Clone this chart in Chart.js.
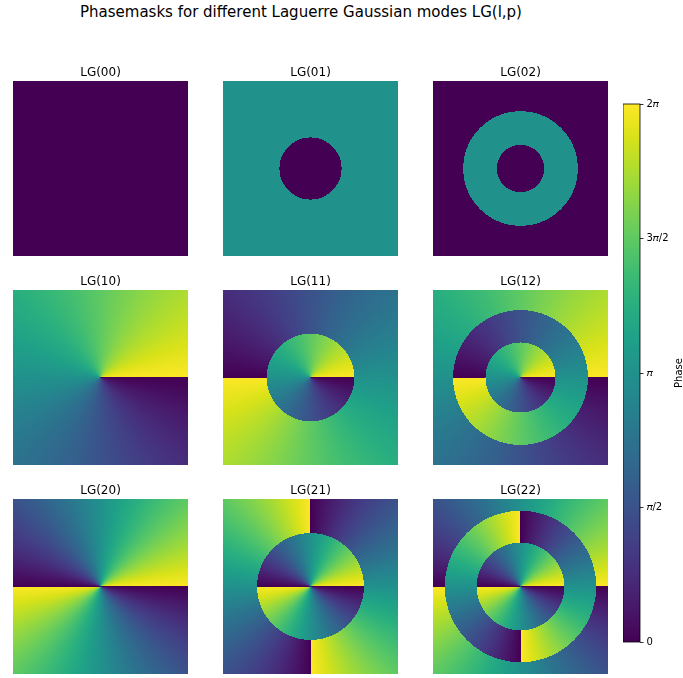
<!DOCTYPE html>
<html>
<head>
<meta charset="utf-8">
<script src="https://cdn.jsdelivr.net/npm/chart.js@4/dist/chart.umd.min.js"></script>
<style>
  html, body { margin: 0; padding: 0; background: #ffffff; }
  #fig { position: relative; width: 683px; height: 678px; overflow: hidden; font-family: "DejaVu Sans", sans-serif; }
  #fig canvas { position: absolute; }
  #suptitle { position: absolute; left: 0; top: 4px; width: 602px; text-align: center;
              font-size: 15px; line-height: 16px; color: #000; white-space: nowrap; }
</style>
</head>
<body>
<div id="fig">
  <div id="suptitle">Phasemasks for different Laguerre Gaussian modes LG(l,p)</div>
</div>
<script>
// Azimuthal index l (rows) and radial index p (columns) of the modes shown
const azimuthalL = [0, 1, 2];
const radialP = [0, 1, 2];

// Radii (in beam waists) where the radial polynomial changes sign, per mode "lp"
const nodeRadii = {
  '00': [],     '01': [0.71],  '02': [0.54, 1.31],
  '10': [],     '11': [1.00],  '12': [0.80, 1.54],
  '20': [],     '21': [1.22],  '22': [1.00, 1.73]
};

// Transverse window of each mask, in beam waists
const windowRange = [-2, 2];
const gridCells = 175;

// Colourbar ticks
const phaseTicks = [0, Math.PI / 2, Math.PI, 3 * Math.PI / 2, 2 * Math.PI];
const phaseTickLabels = ['0', '\u{1D70B}/2', '\u{1D70B}', '3\u{1D70B}/2', '2\u{1D70B}'];

// viridis colour map anchors
const VIRIDIS = [
  [68, 1, 84], [72, 24, 106], [71, 45, 123], [66, 64, 134], [59, 82, 139],
  [51, 99, 141], [44, 114, 142], [38, 130, 142], [33, 145, 140], [31, 160, 136],
  [40, 174, 128], [63, 188, 115], [94, 201, 98], [132, 212, 75], [173, 220, 48],
  [216, 226, 25], [253, 231, 37]
];
const VIRIDIS_CSS_MID = 'rgb(33,145,140)';
function viridis(t) {
  t = Math.min(1, Math.max(0, t));
  const s = t * (VIRIDIS.length - 1);
  const i = Math.min(VIRIDIS.length - 2, Math.floor(s));
  const f = s - i;
  const a = VIRIDIS[i], b = VIRIDIS[i + 1];
  return 'rgb(' + Math.round(a[0] + (b[0] - a[0]) * f) + ',' +
                  Math.round(a[1] + (b[1] - a[1]) * f) + ',' +
                  Math.round(a[2] + (b[2] - a[2]) * f) + ')';
}

const TWO_PI = 2 * Math.PI;

// Paints the phase of an LG mode cell by cell on the chart's x/y scales
const phaseFieldPlugin = {
  id: 'phaseField',
  beforeDatasetsDraw(chart, args, opts) {
    const { ctx } = chart;
    const xs = chart.scales.x, ys = chart.scales.y;
    const [lo, hi] = windowRange;
    const step = (hi - lo) / gridCells;
    ctx.save();
    for (let i = 0; i < gridCells; i++) {
      const x0 = lo + i * step, xc = x0 + step / 2;
      const px0 = Math.round(xs.getPixelForValue(x0));
      const px1 = Math.round(xs.getPixelForValue(x0 + step));
      for (let j = 0; j < gridCells; j++) {
        const y0 = lo + j * step, yc = y0 + step / 2;
        const py0 = Math.round(ys.getPixelForValue(y0));
        const py1 = Math.round(ys.getPixelForValue(y0 + step));
        const r = Math.hypot(xc, yc);
        let flips = 0;
        for (const rn of opts.radii) if (r > rn) flips++;
        let phase = opts.l * Math.atan2(yc, xc) + flips * Math.PI;
        phase = ((phase % TWO_PI) + TWO_PI) % TWO_PI;
        if (phase > TWO_PI - 1e-9) phase = 0;
        ctx.fillStyle = viridis(phase / TWO_PI);
        ctx.fillRect(Math.min(px0, px1), Math.min(py0, py1), Math.abs(px1 - px0), Math.abs(py1 - py0));
      }
    }
    ctx.restore();
  }
};

const fig = document.getElementById('fig');
const panelLeft = [13, 223, 433];
const panelTop = [81, 290, 499];
const panelSize = 175;
const titleBox = 18;

function addCanvas(left, top, w, h) {
  const c = document.createElement('canvas');
  c.width = w; c.height = h;
  c.style.left = left + 'px'; c.style.top = top + 'px';
  c.style.width = w + 'px'; c.style.height = h + 'px';
  fig.appendChild(c);
  return c;
}

azimuthalL.forEach((l, row) => {
  radialP.forEach((p, col) => {
    const key = '' + l + p;
    const canvas = addCanvas(panelLeft[col], panelTop[row] - titleBox, panelSize, panelSize + titleBox);
    new Chart(canvas, {
      type: 'scatter',
      data: { datasets: [{ data: [] }] },
      options: {
        responsive: false, animation: false, events: [],
        layout: { padding: 0 },
        plugins: {
          legend: { display: false },
          tooltip: { enabled: false },
          title: {
            display: true, text: 'LG(' + key + ')', color: '#000000',
            font: { family: 'DejaVu Sans', size: 12, weight: 'normal', lineHeight: '16px' },
            padding: { top: 1.5, bottom: 0.5 }
          },
          phaseField: { l: l, radii: nodeRadii[key] }
        },
        scales: {
          x: { type: 'linear', min: windowRange[0], max: windowRange[1], display: false },
          y: { type: 'linear', min: windowRange[0], max: windowRange[1], display: false, reverse: true }
        }
      },
      plugins: [phaseFieldPlugin]
    });
  });
});

// Colourbar
const cbLeft = 623, cbTop = 104, cbWidth = 17, cbHeight = 538;
const cbAxisWidth = 60 - cbWidth;
const cbPad = 10;

const colorbarFrame = {
  id: 'colorbarFrame',
  afterDatasetsDraw(chart) {
    const { ctx, chartArea: a } = chart;
    ctx.save();
    ctx.strokeStyle = '#000000';
    ctx.lineWidth = 0.8;
    ctx.strokeRect(a.left, a.top, a.right - a.left, a.bottom - a.top);
    ctx.fillStyle = '#000000';
    ctx.font = '10px "DejaVu Sans"';
    ctx.textAlign = 'center';
    ctx.textBaseline = 'alphabetic';
    ctx.translate(chart.width - 1.5, (a.top + a.bottom) / 2);
    ctx.rotate(-Math.PI / 2);
    ctx.fillText('Phase', 0, 0);
    ctx.restore();
  }
};

const cbCanvas = addCanvas(cbLeft, cbTop - cbPad, cbWidth + cbAxisWidth, cbHeight + 2 * cbPad);
new Chart(cbCanvas, {
  type: 'bar',
  data: {
    labels: ['Phase'],
    datasets: [{
      data: [[phaseTicks[0], phaseTicks[phaseTicks.length - 1]]],
      barPercentage: 1, categoryPercentage: 1, borderWidth: 0,
      backgroundColor(ctx) {
        const a = ctx.chart.chartArea;
        if (!a) return VIRIDIS_CSS_MID;
        const g = ctx.chart.ctx.createLinearGradient(0, a.bottom, 0, a.top);
        VIRIDIS.forEach((c, i) => g.addColorStop(i / (VIRIDIS.length - 1), 'rgb(' + c.join(',') + ')'));
        return g;
      }
    }]
  },
  options: {
    responsive: false, animation: false, events: [],
    layout: { padding: { top: cbPad, bottom: cbPad, left: 0, right: 0 } },
    plugins: { legend: { display: false }, tooltip: { enabled: false } },
    scales: {
      x: { display: false },
      y: {
        position: 'right', min: 0, max: 2 * Math.PI,
        afterBuildTicks(scale) { scale.ticks = phaseTicks.map(v => ({ value: v })); },
        afterFit(scale) { scale.width = cbAxisWidth; },
        ticks: {
          color: '#000000', padding: 3,
          font: { family: 'DejaVu Sans', size: 10 },
          callback(v, i) { return phaseTickLabels[i]; }
        },
        grid: { display: true, drawOnChartArea: false, drawTicks: true, tickLength: 3.5,
                tickColor: '#000000', lineWidth: 0.8 },
        border: { display: false }
      }
    }
  },
  plugins: [colorbarFrame]
});
</script>
</body>
</html>
